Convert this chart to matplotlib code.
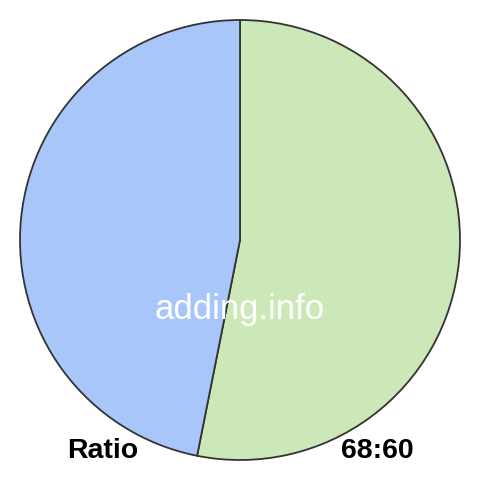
import matplotlib
matplotlib.use("Agg")
import matplotlib.pyplot as plt

labels = ["68", "60"]
values = [68, 60]
colors = ["#cde8b8", "#a8c6fa"]
title_left = "Ratio"
title_right = "68:60"
watermark = "adding.info"

plt.rcParams['font.family'] = ['Liberation Sans', 'DejaVu Sans']

fig = plt.figure(figsize=(4.8, 4.8), dpi=100)
ax = fig.add_axes([0, 0, 1, 1])
ax.pie(values, colors=colors, startangle=90, counterclock=False,
       radius=220, center=(0, 0),
       wedgeprops=dict(edgecolor="#333333", linewidth=1.3))
ax.set_xlim(-240, 240)
ax.set_ylim(-240, 240)
ax.set_aspect("equal")
ax.axis("off")

ax.text(0, -70, watermark, color="white", fontsize=25, ha="center", va="center")
ax.text(-137, -211, title_left, color="black", fontsize=20.5, fontweight="bold",
        ha="center", va="center")
ax.text(137, -211, title_right, color="black", fontsize=20.5, fontweight="bold",
        ha="center", va="center")

fig.savefig("out.png", dpi=100, facecolor="white")
